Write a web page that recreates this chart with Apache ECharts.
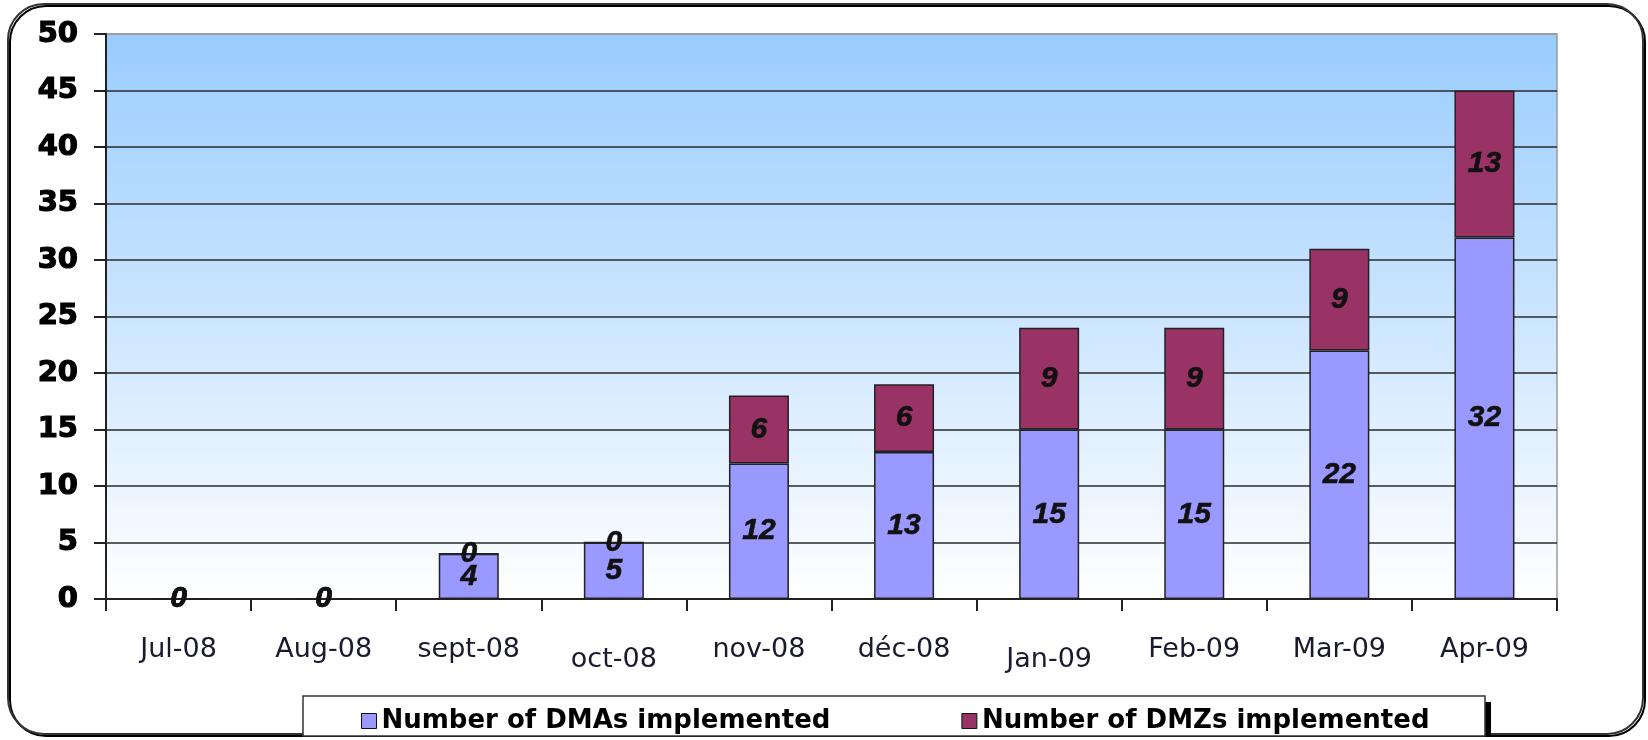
<!DOCTYPE html>
<html>
<head>
<meta charset="utf-8">
<script src="https://cdn.jsdelivr.net/npm/echarts@6/dist/echarts.min.js"></script>
<style>
  html, body { margin: 0; padding: 0; background: #fff; }
  #container { width: 1648px; height: 740px; }
</style>
</head>
<body>
<div id="container"></div>
<script type="text/javascript">
    // chart data
    var months = ['Jul-08', 'Aug-08', 'sept-08', 'oct-08', 'nov-08', 'déc-08', 'Jan-09', 'Feb-09', 'Mar-09', 'Apr-09'];
    var dmaValues = [0, 0, 4, 5, 12, 13, 15, 15, 22, 32];
    var dmzValues = [0, 0, 0, 0, 6, 6, 9, 9, 9, 13];
    var dmaName = 'Number of DMAs implemented';
    var dmzName = 'Number of DMZs implemented';
    // months whose label sits a bit lower / higher in the original
    var lowLabels = ['oct-08', 'Jan-09'];
    var highLabels = ['sept-08'];

    var dom = document.getElementById("container");
    var myChart = echarts.init(dom);

    var barLabel = {
        show: true,
        position: 'inside',
        color: '#111',
        fontFamily: 'Liberation Sans',
        fontStyle: 'italic',
        fontWeight: 'bold',
        fontSize: 30,
        textBorderColor: '#111',
        textBorderWidth: 0.6
    };

    var gridColors = [];
    for (var k = 0; k < 10; k++) gridColors.push('#2a2a2a');
    gridColors.push('#9a9a9a');

    var option = {
        backgroundColor: '#fff',
        animation: false,
        graphic: [
            {
                type: 'rect',
                z: -10,
                shape: { x: 8, y: 4, width: 1635, height: 730, r: 36 },
                style: { fill: 'none', stroke: '#333', lineWidth: 2, shadowColor: '#000', shadowOffsetX: 2, shadowOffsetY: 2, shadowBlur: 0 }
            },
            {
                // legend box shadow
                type: 'rect',
                z: -6,
                shape: { x: 309, y: 702, width: 1182, height: 34 },
                style: { fill: '#000' }
            },
            {
                type: 'rect',
                z: -5,
                shape: { x: 303, y: 696, width: 1182, height: 40 },
                style: { fill: '#fff', stroke: '#333', lineWidth: 1.5 }
            }
        ],
        legend: {
            data: [dmaName, dmzName],
            left: 356,
            top: 703,
            itemWidth: 15,
            itemHeight: 15,
            itemGap: 131,
            icon: 'rect',
            itemStyle: { borderColor: '#111', borderWidth: 1 },
            textStyle: {
                color: '#000',
                fontFamily: 'DejaVu Sans',
                fontWeight: 'bold',
                fontSize: 26
            }
        },
        grid: {
            left: 106,
            right: 91,
            top: 34,
            bottom: 141,
            show: true,
            borderColor: '#9a9a9a',
            borderWidth: 1.5,
            backgroundColor: new echarts.graphic.LinearGradient(0, 0, 0, 1, [
                { offset: 0, color: '#99CCFF' },
                { offset: 1, color: '#FFFFFF' }
            ])
        },
        xAxis: {
            type: 'category',
            data: months,
            axisLine: { show: true, lineStyle: { color: '#222', width: 2 } },
            axisTick: { show: true, interval: 0, alignWithLabel: false, length: 12, lineStyle: { color: '#222', width: 2 } },
            axisLabel: {
                interval: 0,
                margin: 37,
                color: '#1a1a2e',
                fontFamily: 'DejaVu Sans',
                fontSize: 27,
                formatter: function (v) {
                    if (lowLabels.indexOf(v) >= 0) return '{lo|' + v + '}';
                    if (highLabels.indexOf(v) >= 0) return '{hi|' + v + '}';
                    return v;
                },
                rich: {
                    lo: { fontFamily: 'DejaVu Sans', fontSize: 27, color: '#1a1a2e', padding: [10, 0, 0, 0] },
                    hi: { fontFamily: 'DejaVu Sans', fontSize: 27, color: '#1a1a2e', padding: [0, 0, 4, 0] }
                }
            }
        },
        yAxis: {
            type: 'value',
            min: 0,
            max: 50,
            interval: 5,
            axisLine: { show: true, lineStyle: { color: '#222', width: 2 } },
            axisTick: { show: true, length: 12, lineStyle: { color: '#222', width: 2 } },
            splitLine: { lineStyle: { color: gridColors, width: 1.5 } },
            axisLabel: {
                margin: 28,
                color: '#000',
                fontFamily: 'DejaVu Sans',
                fontWeight: 'bold',
                fontSize: 29,
                textBorderColor: '#000',
                textBorderWidth: 1.2
            }
        },
        series: [
            {
                name: dmaName,
                type: 'bar',
                stack: 'total',
                barWidth: 60,
                data: dmaValues,
                itemStyle: { color: '#9999FF', borderColor: '#222', borderWidth: 1.5 },
                label: barLabel
            },
            {
                name: dmzName,
                type: 'bar',
                stack: 'total',
                barWidth: 60,
                data: dmzValues,
                itemStyle: { color: '#993366', borderColor: '#222', borderWidth: 1.5 },
                label: barLabel
            }
        ]
    };

    myChart.setOption(option);
</script>
</body>
</html>
